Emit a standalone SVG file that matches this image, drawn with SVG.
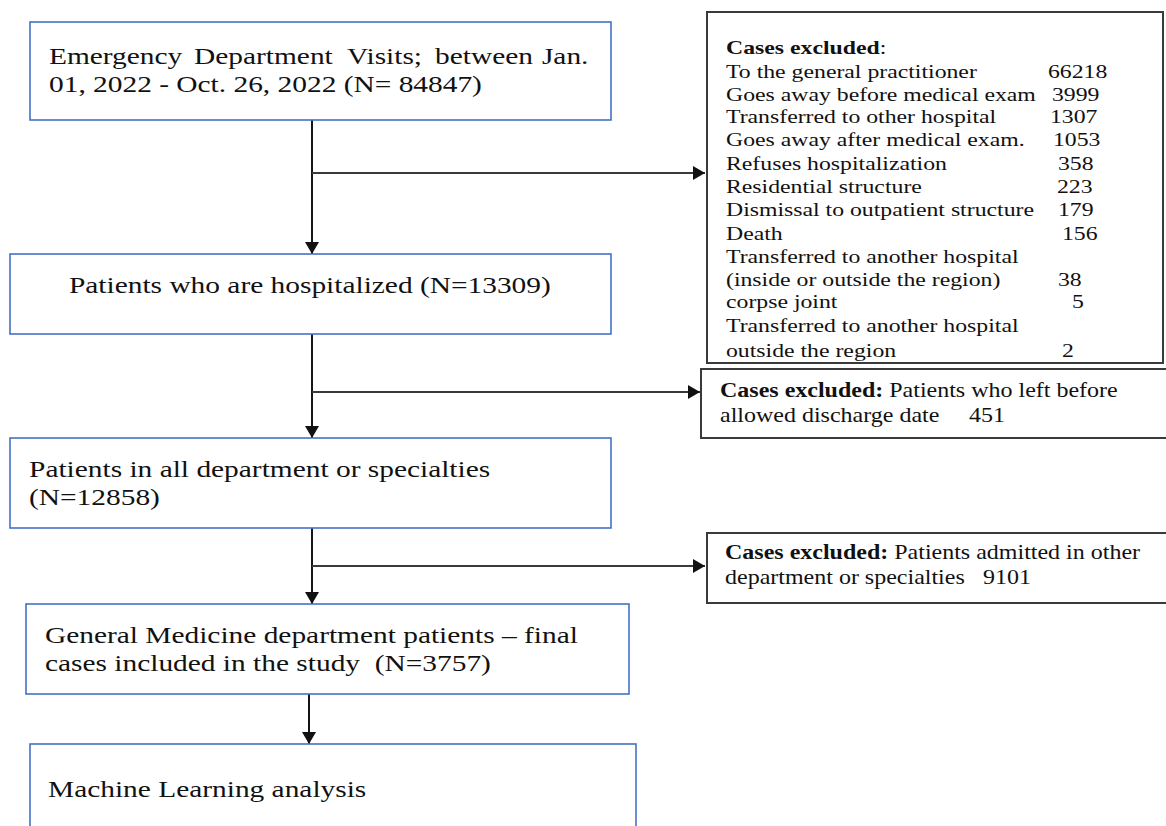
<svg xmlns="http://www.w3.org/2000/svg" width="1166" height="826" viewBox="0 0 1166 826">
<style>
text{font-family:"Liberation Serif","Times New Roman",serif;fill:#111}
.t{font-size:24px}
.r1{font-size:19px}
.r2{font-size:20px}
.b{font-weight:bold}
.blue{fill:#fff;stroke:#4472C4;stroke-width:1.6}
.gray{fill:#fff;stroke:#3a3a3a;stroke-width:2}
.v{fill:none;stroke:#151515;stroke-width:2}
.h{fill:none;stroke:#3a3a3a;stroke-width:1.8}
</style>
<defs>
<marker id="ah" markerWidth="12" markerHeight="14" refX="12" refY="7" orient="auto" markerUnits="userSpaceOnUse">
<path d="M0,0 L12,7 L0,14 Z" fill="#111"/>
</marker>
</defs>
<rect width="1166" height="826" fill="#fff"/>
<g id="connectors">
<path class="v" d="M312,120 V254" marker-end="url(#ah)"/>
<path class="h" d="M312,173 H705" marker-end="url(#ah)"/>
<path class="v" d="M312,334 V438" marker-end="url(#ah)"/>
<path class="h" d="M312,392 H700" marker-end="url(#ah)"/>
<path class="v" d="M312,528 V604" marker-end="url(#ah)"/>
<path class="h" d="M312,566 H705" marker-end="url(#ah)"/>
<path class="v" d="M309,694 V744" marker-end="url(#ah)"/>
</g>
<g id="n1">
<rect class="blue" x="30" y="22" width="581" height="98"/>
<g class="t" transform="matrix(1.225,0,0,1,0,0)">
<text y="64"><tspan x="40">Emergency</tspan><tspan x="158.4">Department</tspan><tspan x="283.3">Visits;</tspan><tspan x="355.1">between</tspan><tspan x="442.4">Jan.</tspan></text>
<text x="40" y="92">01, 2022 - Oct. 26, 2022 (N= 84847)</text>
</g>
</g>
<g id="n2">
<rect class="blue" x="10" y="254" width="601" height="80"/>
<text class="t" transform="matrix(1.225,0,0,1,0,0)" x="56.3" y="293">Patients who are hospitalized (N=13309)</text>
</g>
<g id="n3">
<rect class="blue" x="10" y="438" width="601" height="90"/>
<g class="t" transform="matrix(1.225,0,0,1,0,0)">
<text x="23.7" y="477">Patients in all department or specialties</text>
<text x="23.7" y="505">(N=12858)</text>
</g>
</g>
<g id="n4">
<rect class="blue" x="26" y="604" width="603" height="90"/>
<g class="t" transform="matrix(1.225,0,0,1,0,0)">
<text x="36.7" y="643">General Medicine department patients – final</text>
<text x="36.7" y="671" xml:space="preserve">cases included in the study  (N=3757)</text>
</g>
</g>
<g id="n5">
<rect class="blue" x="30" y="744" width="606" height="120"/>
<text class="t" transform="matrix(1.225,0,0,1,0,0)" x="39.2" y="797">Machine Learning analysis</text>
</g>
<g id="ex1">
<rect class="gray" x="707" y="12" width="456" height="351"/>
<g class="r1" transform="matrix(1.25,0,0,1,726,0)">
<text y="54"><tspan class="b">Cases excluded</tspan>:</text>
<text y="78">To the general practitioner</text><text x="257.6" y="78">66218</text>
<text y="101">Goes away before medical exam</text><text x="260.8" y="101">3999</text>
<text y="123">Transferred to other hospital</text><text x="259.2" y="123">1307</text>
<text y="146">Goes away after medical exam.</text><text x="261.6" y="146">1053</text>
<text y="170">Refuses hospitalization</text><text x="265.6" y="170">358</text>
<text y="193">Residential structure</text><text x="264.8" y="193">223</text>
<text y="216">Dismissal to outpatient structure</text><text x="265.6" y="216">179</text>
<text y="240">Death</text><text x="268.8" y="240">156</text>
<text y="263">Transferred to another hospital</text>
<text y="286">(inside or outside the region)</text><text x="265.6" y="286">38</text>
<text y="308">corpse joint</text><text x="276.8" y="308">5</text>
<text y="332">Transferred to another hospital</text>
<text y="357">outside the region</text><text x="268.8" y="357">2</text>
</g>
</g>
<g id="ex2">
<rect class="gray" x="701" y="369" width="470" height="69"/>
<g class="r2" transform="matrix(1.2,0,0,1,720,0)">
<text y="397"><tspan class="b">Cases excluded:</tspan> Patients who left before</text>
<text y="422">allowed discharge date</text><text x="207.5" y="422">451</text>
</g>
</g>
<g id="ex3">
<rect class="gray" x="707" y="533" width="470" height="70"/>
<g class="r2" transform="matrix(1.2,0,0,1,725,0)">
<text y="559"><tspan class="b">Cases excluded:</tspan> Patients admitted in other</text>
<text y="584">department or specialties</text><text x="215" y="584">9101</text>
</g>
</g>
</svg>
